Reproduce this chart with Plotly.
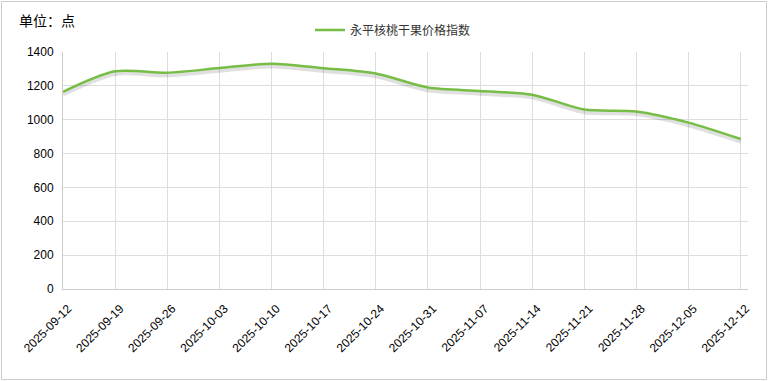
import plotly.graph_objects as go

dates = ["2025-09-12", "2025-09-19", "2025-09-26", "2025-10-03", "2025-10-10",
         "2025-10-17", "2025-10-24", "2025-10-31", "2025-11-07", "2025-11-14",
         "2025-11-21", "2025-11-28", "2025-12-05", "2025-12-12"]
index_values = [1165, 1286, 1278, 1305, 1331, 1304, 1273, 1190, 1170, 1148,
                1060, 1049, 983, 886]
series_name = "永平核桃干果价格指数"
unit_label = "单位：点"
y_ticks = [0, 200, 400, 600, 800, 1000, 1200, 1400]

GREEN = "#77BD45"
FONT = "Liberation Sans, Noto Sans CJK SC, sans-serif"

fig = go.Figure()

# soft drop shadow under the line
shadow_offset = 16
fig.add_trace(go.Scatter(
    x=dates, y=[v - shadow_offset for v in index_values],
    mode="lines", line=dict(color="rgba(0,0,0,0.12)", width=4, shape="spline", smoothing=0.8),
    hoverinfo="skip", showlegend=False,
))
fig.add_trace(go.Scatter(
    x=dates, y=index_values, name=series_name,
    mode="lines", line=dict(color=GREEN, width=2.5, shape="spline", smoothing=0.8),
))

# plot area geometry (pixels) used for paper-coordinate placement
L, R, T, B = 63, 20, 52, 92
W, H = 768, 381
pw, ph = W - L - R, H - T - B

def px_x(x):
    return (x - L) / pw

def px_y(y):
    return (H - B - y) / ph

fig.update_layout(
    width=W, height=H,
    margin=dict(l=L, r=R, t=T, b=B, autoexpand=False),
    paper_bgcolor="white", plot_bgcolor="white",
    font=dict(family=FONT, size=12, color="#333333"),
    showlegend=True,
    legend=dict(
        orientation="h", x=px_x(310), y=px_y(30), xanchor="left", yanchor="middle",
        font=dict(size=12, color="#333333"), bgcolor="rgba(0,0,0,0)",
        itemwidth=30,
    ),
    xaxis=dict(
        type="category", range=[0, 13.14],
        tickangle=-45, tickfont=dict(size=12, color="#000000"),
        showgrid=True, gridcolor="#dddddd", gridwidth=1,
        showline=True, linecolor="#cccccc", linewidth=1,
        ticks="", zeroline=False, automargin=False,
        ticklabelstandoff=7, ticklabelshift=5,
    ),
    yaxis=dict(
        range=[0, 1400], tickvals=y_ticks,
        tickfont=dict(size=12, color="#000000"),
        showgrid=True, gridcolor="#dddddd", gridwidth=1,
        showline=True, linecolor="#cccccc", linewidth=1,
        ticks="", zeroline=False, ticklabelstandoff=6, automargin=False,
    ),
    annotations=[dict(
        text=unit_label, xref="paper", yref="paper",
        x=px_x(17), y=px_y(21), xanchor="left", yanchor="middle",
        showarrow=False, font=dict(size=14, color="#000000"),
    )],
    shapes=[dict(
        type="rect", xref="paper", yref="paper",
        x0=px_x(1.5), x1=px_x(766.5), y0=px_y(379.5), y1=px_y(1.5),
        line=dict(color="#cccccc", width=1), fillcolor="rgba(0,0,0,0)", layer="below",
    )],
)

fig.write_html(
    "out.html",
    config={"displayModeBar": False},
    post_script="document.body.style.margin='0';document.body.style.overflow='hidden';",
)
